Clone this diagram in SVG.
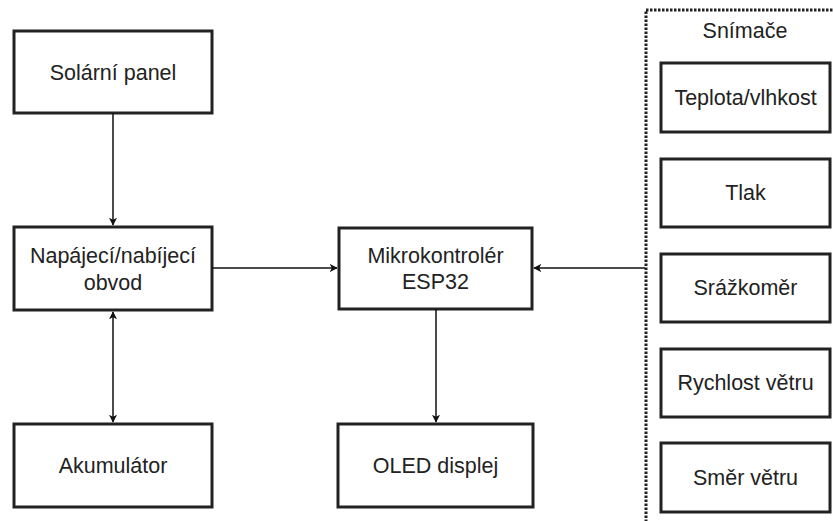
<svg xmlns="http://www.w3.org/2000/svg" width="833" height="521" viewBox="0 0 833 521">
<style>
.box{fill:#fff;stroke:#222;stroke-width:3}
.t{font-family:"Liberation Sans",Arial,sans-serif;font-size:21.5px;fill:#222;text-anchor:middle}
.c{stroke:#111;stroke-width:1.5;fill:none}
</style>
<defs>
<marker id="ah" viewBox="0 0 10 10" refX="9" refY="5" markerWidth="8" markerHeight="8" markerUnits="userSpaceOnUse" orient="auto-start-reverse">
<path d="M0,0 L10,5 L0,10 L2.5,5 Z" fill="#111"/>
</marker>
</defs>
<rect width="833" height="521" fill="#fff"/>
<g id="snimace">
<rect x="646" y="10" width="200" height="530" fill="none" stroke="#222" stroke-width="3" stroke-dasharray="2.5 1.5"/>
<text class="t" x="745" y="38">Snímače</text>
</g>
<g id="solar"><rect class="box" x="14" y="31" width="198" height="82"/><text class="t" x="113" y="80">Solární panel</text></g>
<g id="napajeci"><rect class="box" x="14" y="227" width="198" height="83"/><text class="t" x="113" y="263">Napájecí/nabíjecí</text><text class="t" x="113" y="290">obvod</text></g>
<g id="akumulator"><rect class="box" x="14" y="424" width="198" height="83"/><text class="t" x="113" y="473">Akumulátor</text></g>
<g id="mikro"><rect class="box" x="339" y="228" width="193" height="81"/><text class="t" x="435.5" y="263">Mikrokontrolér</text><text class="t" x="435.5" y="289">ESP32</text></g>
<g id="oled"><rect class="box" x="338" y="424" width="195" height="83"/><text class="t" x="435.5" y="473">OLED displej</text></g>
<g id="teplota"><rect class="box" x="661" y="63" width="169" height="69"/><text class="t" x="745.5" y="105">Teplota/vlhkost</text></g>
<g id="tlak"><rect class="box" x="661" y="159" width="169" height="68"/><text class="t" x="745.5" y="200">Tlak</text></g>
<g id="srazkomer"><rect class="box" x="661" y="254" width="169" height="68"/><text class="t" x="745.5" y="295">Srážkoměr</text></g>
<g id="rychlost"><rect class="box" x="661" y="349" width="169" height="68"/><text class="t" x="745.5" y="390">Rychlost větru</text></g>
<g id="smer"><rect class="box" x="661" y="443" width="169" height="69"/><text class="t" x="745.5" y="485">Směr větru</text></g>
<g id="connectors">
<line class="c" x1="113" y1="113" x2="113" y2="225" marker-end="url(#ah)"/>
<line class="c" x1="113" y1="312" x2="113" y2="422" marker-start="url(#ah)" marker-end="url(#ah)"/>
<line class="c" x1="212" y1="268" x2="337" y2="268" marker-end="url(#ah)"/>
<line class="c" x1="645" y1="268" x2="534" y2="268" stroke="#444" marker-end="url(#ah)"/>
<line class="c" x1="436" y1="309" x2="436" y2="422" marker-end="url(#ah)"/>
</g>
</svg>
